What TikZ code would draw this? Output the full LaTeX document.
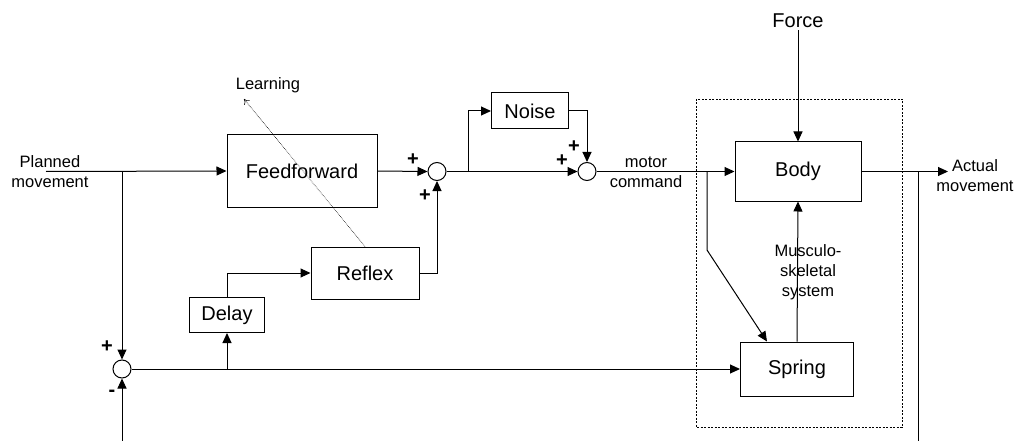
\documentclass[tikz,border=0pt]{standalone}
\usepackage{fontspec}
\setmainfont{Liberation Sans}
\usetikzlibrary{arrows.meta}

\tikzset{
  block/.style={draw, line width=1pt, font=\fontsize{20}{24}\selectfont},
  sumnode/.style={draw, circle, line width=1pt, minimum size=18pt, inner sep=0pt},
  smalltxt/.style={align=center, inner sep=0pt, font=\fontsize{16.5}{20}\selectfont},
  bigtxt/.style={inner sep=2pt, font=\fontsize{20}{24}\selectfont},
  signtxt/.style={inner sep=0pt, font=\fontsize{20}{24}\selectfont\bfseries},
  sig/.style={line width=1pt, -{Triangle[length=10pt,width=9pt]}},
  wire/.style={line width=1pt}
}

\begin{document}
\begin{tikzpicture}[x=1pt, y=-1pt]
            \useasboundingbox (0,0) rectangle (1020,441);

            % Blocks
            \node[block, minimum width=150pt, minimum height=72pt] (ff) at (302,171) {Feedforward};
            \node[block, minimum width=108pt, minimum height=52pt] (reflex) at (365,273) {Reflex};
            \node[block, minimum width=75pt, minimum height=35pt] (delay) at (227,315) {Delay};
            \node[block, minimum width=77pt, minimum height=36pt] (noise) at (530,111) {Noise};
            \node[block, minimum width=126pt, minimum height=59pt] (body) at (798,171.5) {Body};
            \node[block, minimum width=113pt, minimum height=54pt] (spring) at (797,369) {Spring};

            % Summing points
            \node[sumnode] (sum1) at (437,171.5) {};
            \node[sumnode] (sum2) at (587,171.5) {};
            \node[sumnode] (sum3) at (122,369) {};

            % Musculo-skeletal system frame
            \draw[line width=0.8pt, dash pattern=on 2pt off 1.5pt] (696,99) rectangle (902,427);

            % Texts
            \node[smalltxt] (plan) at (50,172) {Planned\\movement};
            \node[smalltxt] (motor) at (646,172) {motor\\command};
            \node[smalltxt] (actual) at (975,176) {Actual\\movement};
            \node[smalltxt] (musc) at (808,272) {Musculo-\\skeletal\\system};
            \node[smalltxt] (learn) at (268,85) {Learning};
            \node[bigtxt] (force) at (798,21) {Force};

            % Signs at the summing points
            \foreach \x/\y/\s in {413/160/+, 425/196/+, 574/147/+, 562/161/+, 107/347/+, 112/393/-} {
                \node[signtxt] at (\x,\y) {\s};
            }

            % Branch points and free ends
            \coordinate (in) at (46,171.5);
            \coordinate (split1) at (122,171.5);
            \coordinate (fbin) at (122,441);
            \coordinate (dsplit) at (227,369);
            \coordinate (nsplit) at (468,171.5);
            \coordinate (bsplit) at (707,171.5);
            \coordinate (bbend) at (707,250);
            \coordinate (out) at (948,171.5);
            \coordinate (osplit) at (918,171.5);
            \coordinate (fbout) at (918,441);
            \coordinate (learnend) at (244,99);

            % Forward path
            \draw[sig] (in) -- (ff.west);
            \draw[sig] (ff.east) -- (sum1.west);
            \draw[sig] (sum1.east) -- (sum2.west);
            \draw[sig] (nsplit) |- (noise.west);
            \draw[sig] (noise.east) -| (sum2.north);
            \draw[sig] (sum2.east) -- (body.west);
            \draw[sig] (body.east) -- (out);
            \draw[wire] (osplit) -- (fbout);

            % Feedback path
            \draw[sig] (split1) -- (sum3.north);
            \draw[sig] (fbin) -- (sum3.south);
            \draw[sig] (sum3.east) -- (spring.west);
            \draw[sig] (dsplit) -- (delay.south);
            \draw[sig] (delay.north) |- (reflex.west);
            \draw[sig] (reflex.east) -| (sum1.south);

            % Inside the body
            \draw[sig] (bsplit) -- (bbend) -- ([xshift=-30pt]spring.north);
            \draw[sig] (spring.north) -- (body.south);
            \draw[sig] (force) -- (body.north);

            % Learning
            \draw[line width=0.6pt, densely dotted, -{To[length=5pt,width=7pt]}] (reflex.north) -- (learnend);
        \end{tikzpicture}
\end{document}
